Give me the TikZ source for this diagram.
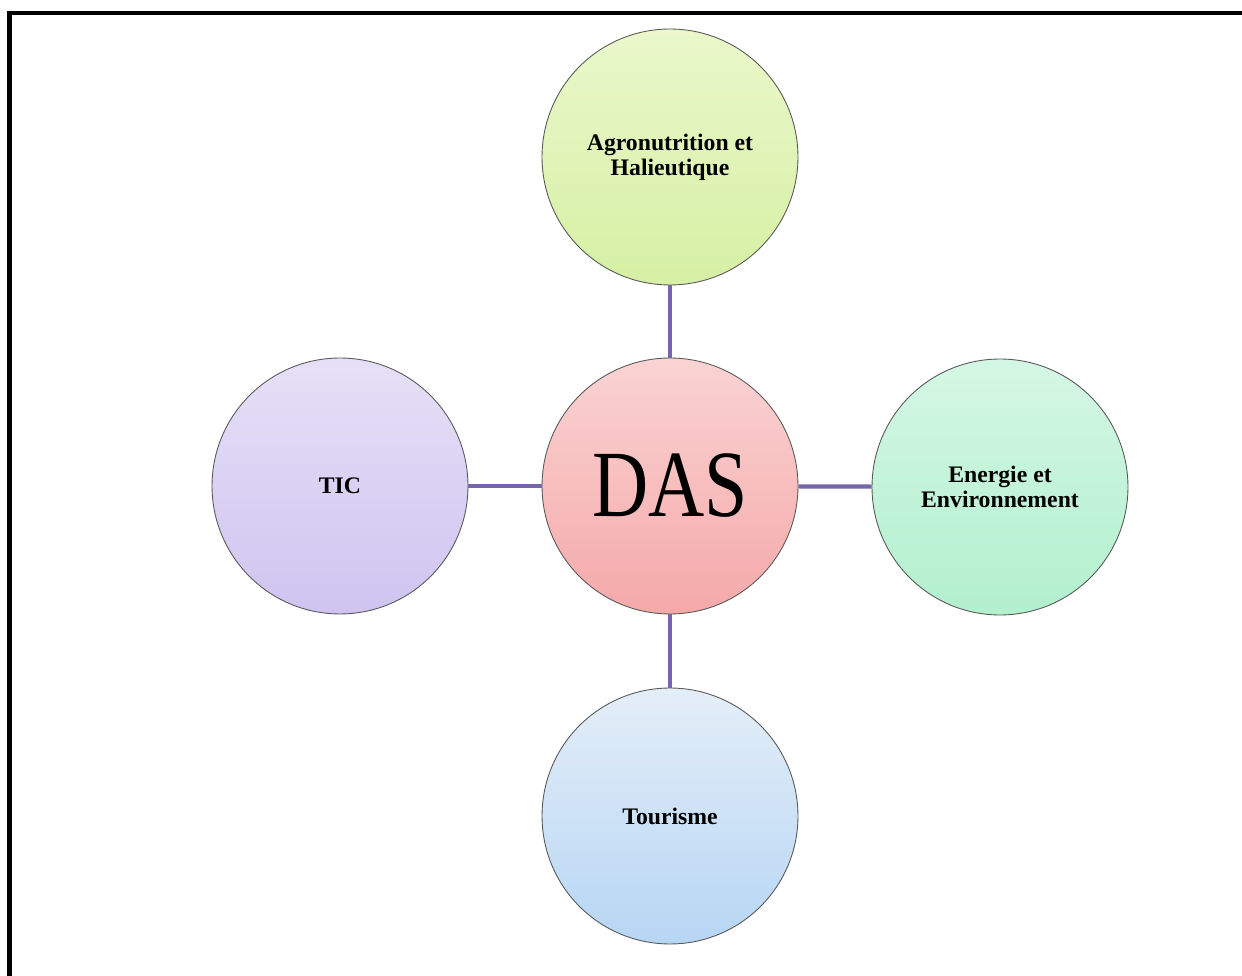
\documentclass[tikz,border=0pt]{standalone}
\usepackage{fontspec}
\setmainfont{Liberation Serif}
\newfontfamily\dasfont[FakeStretch=0.82]{Liberation Serif}

\definecolor{linkpurple}{HTML}{7665A8}
\definecolor{agrotop}{HTML}{EAF8CB}
\definecolor{agrobot}{HTML}{D6F0A4}
\definecolor{dastop}{HTML}{FAD3D3}
\definecolor{dasbot}{HTML}{F5A9A9}
\definecolor{tictop}{HTML}{E6E0F7}
\definecolor{ticbot}{HTML}{CFC4F0}
\definecolor{envtop}{HTML}{D4F7E4}
\definecolor{envbot}{HTML}{B2F0CE}
\definecolor{tourtop}{HTML}{E4EEF8}
\definecolor{tourbot}{HTML}{B6D6F4}

\begin{document}
\begin{tikzpicture}[x=0.02cm, y=-0.02cm,
    bubble/.style={circle, draw=black!65, line width=0.5pt, minimum size=5.12cm,
        inner sep=0pt, align=center, font=\fontsize{13.5}{14.2}\selectfont\bfseries},
    link/.style={draw=linkpurple, line width=2.4pt}]

    % Page size and the frame, cut at right and bottom
    \useasboundingbox (0, 0) rectangle (1242, 976);
    \clip (0, 0) rectangle (1242, 976);
    \fill[white] (0, 0) rectangle (1242, 976);
    \draw[line width=2.6pt] (9.5, 13) rectangle (1300, 1100);

    % The five bubbles
    \node[bubble, top color=dastop, bottom color=dasbot] (das) at (670, 486)
        {\dasfont\fontsize{54}{56}\selectfont\mdseries DAS};
    \node[bubble, top color=agrotop, bottom color=agrobot] (agro) at (670, 157)
        {Agronutrition et\\Halieutique};
    \node[bubble, top color=tictop, bottom color=ticbot] (tic) at (340, 486) {TIC};
    \node[bubble, top color=envtop, bottom color=envbot] (env) at (1000, 487)
        {Energie et\\Environnement};
    \node[bubble, top color=tourtop, bottom color=tourbot] (tour) at (670, 816) {Tourisme};

    % Spokes from the centre
    \draw[link] (agro) -- (das);
    \draw[link] (tic) -- (das);
    \draw[link] (env) -- (das);
    \draw[link] (tour) -- (das);

\end{tikzpicture}
\end{document}
